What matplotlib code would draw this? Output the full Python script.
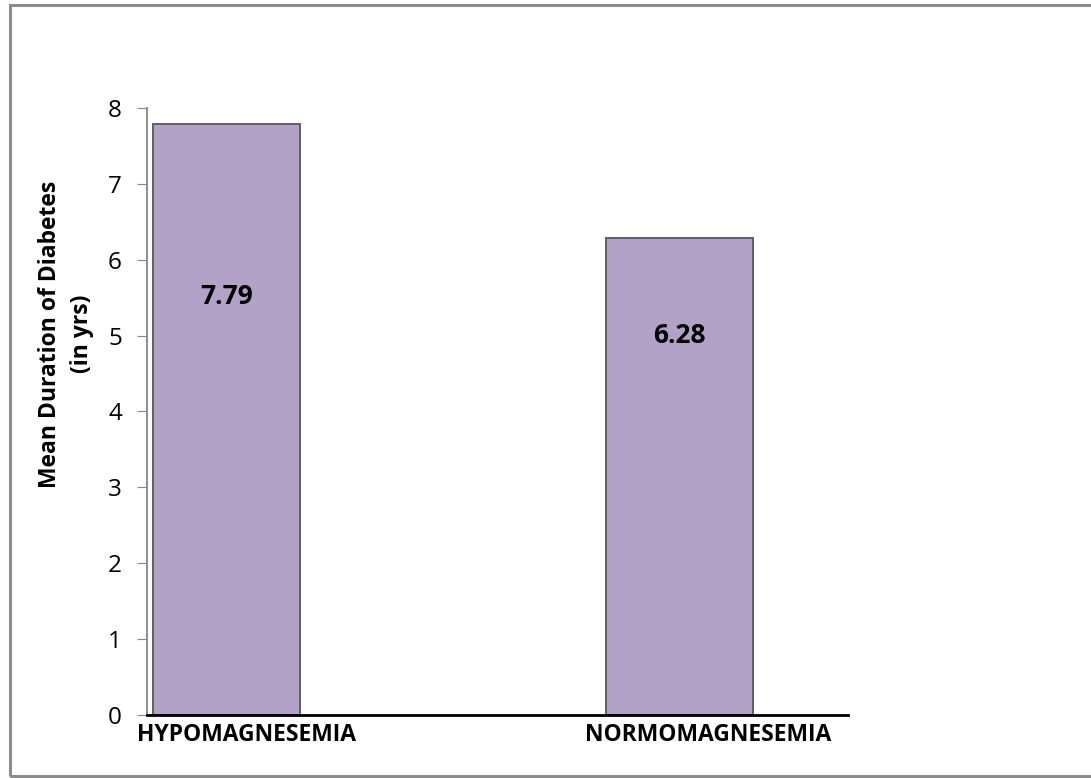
import matplotlib.pyplot as plt
from matplotlib.patches import Rectangle

groups = ['HYPOMAGNESEMIA', 'NORMOMAGNESEMIA']
mean_duration = [7.79, 6.28]
label_y = [5.52, 5.0]
yticks = [0, 1, 2, 3, 4, 5, 6, 7, 8]

plt.rcParams['font.family'] = ['Open Sans', 'DejaVu Sans']

fig = plt.figure(figsize=(10.91, 7.78), dpi=100)
# outer chart frame
fig.patches.append(Rectangle((0.009, 0.003), 0.995, 0.99, transform=fig.transFigure,
                             fill=False, edgecolor='#8c8c8c', linewidth=2.2))

ax = fig.add_axes([0.1347, 0.081, 0.6426, 0.7802])
x = [0, 1]
ax.bar(x, mean_duration, width=0.325, color='#b3a2c7', edgecolor='#5f5f5f', linewidth=1.4)

for xi, v, ly in zip(x, mean_duration, label_y):
    ax.text(xi, ly, f'{v:.2f}', ha='center', va='center', fontsize=19, fontweight='bold')

ax.set_xlim(-0.1755, 1.372)
ax.set_ylim(0, 8)
ax.set_yticks(yticks)
ax.tick_params(axis='y', direction='out', length=7, color='#868686', labelsize=17.5, pad=11)
ax.set_xticks([0.044, 1.063])
ax.set_xticklabels(groups, fontsize=16.5, fontweight='bold')
ax.tick_params(axis='x', length=0, pad=6)

for s in ['top', 'right']:
    ax.spines[s].set_visible(False)
ax.spines['left'].set_color('#868686')
ax.spines['left'].set_linewidth(1.3)
ax.spines['bottom'].set_color('black')
ax.spines['bottom'].set_linewidth(2)

fig.text(0.0605, 0.5707, 'Mean Duration of Diabetes\n(in yrs)', rotation=90,
         ha='center', va='center', multialignment='center',
         fontsize=16.5, fontweight='bold', linespacing=1.4)

fig.savefig('out.png', dpi=100)
